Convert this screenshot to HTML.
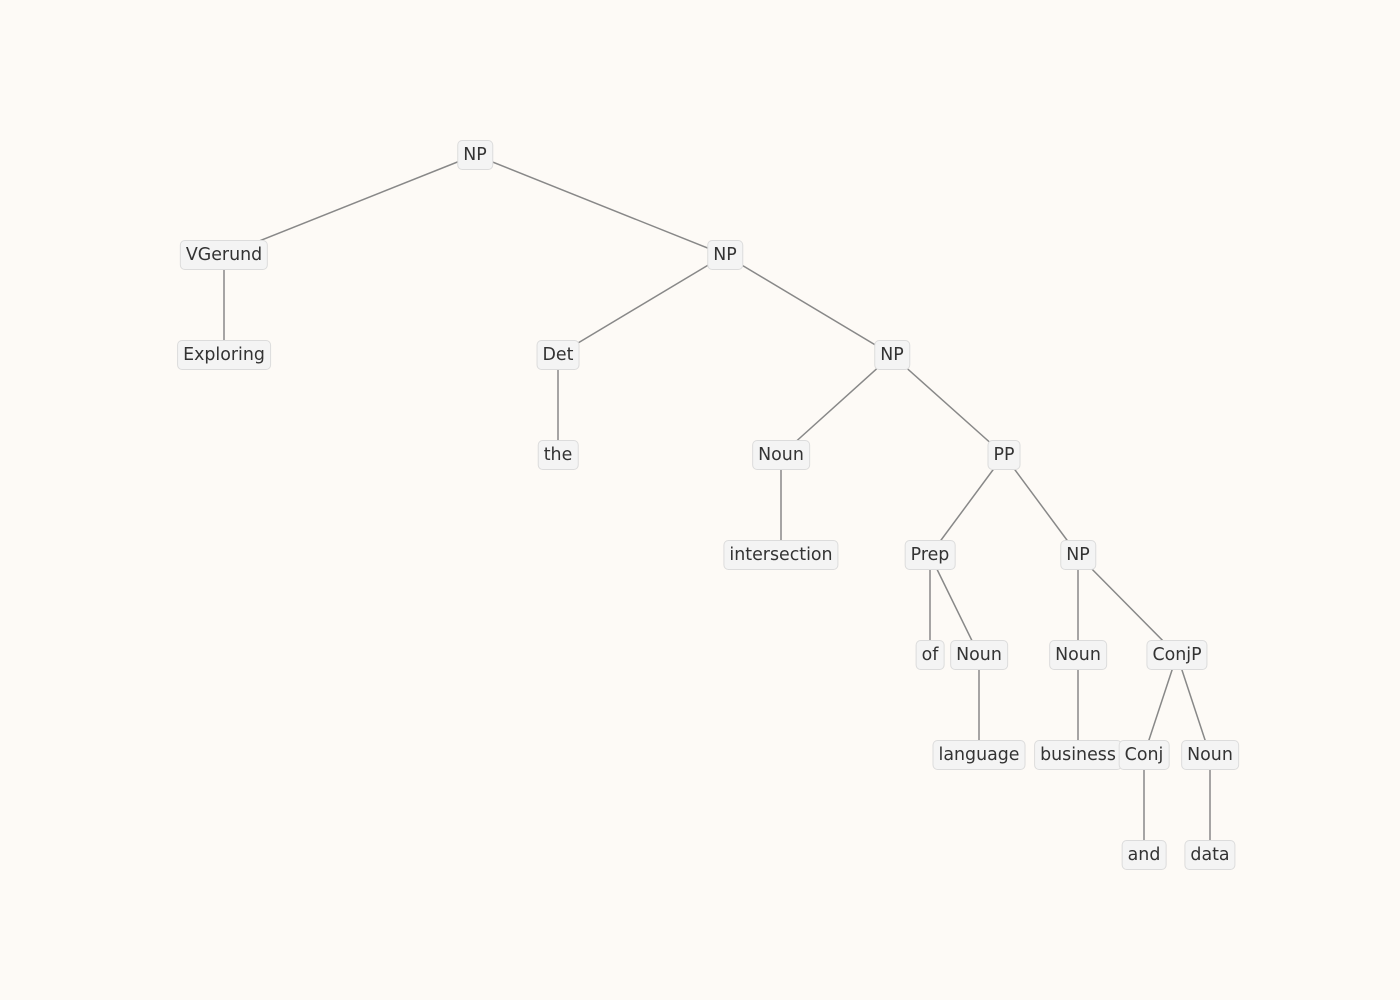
<!DOCTYPE html>
<html><head><meta charset="utf-8"><style>
html,body{margin:0;padding:0;}
body{width:1400px;height:1000px;background:#fdfaf6;position:relative;overflow:hidden;font-family:"DejaVu Sans","Liberation Sans",sans-serif;}
svg{position:absolute;left:0;top:0;}
.n{position:absolute;transform:translate(-50%,-50%);background:#f4f4f4;border:1px solid #dcdcdc;border-radius:5px;padding:0 5px;height:28px;line-height:28px;font-size:17.4px;color:#333;white-space:nowrap;margin-top:1px;}
</style></head><body>
<svg width="1400" height="1000" stroke="#888" stroke-width="1.5">
<line x1="475" y1="155" x2="224" y2="255"/>
<line x1="475" y1="155" x2="725" y2="255"/>
<line x1="224" y1="255" x2="224" y2="355"/>
<line x1="725" y1="255" x2="558" y2="355"/>
<line x1="725" y1="255" x2="892" y2="355"/>
<line x1="558" y1="355" x2="558" y2="455"/>
<line x1="892" y1="355" x2="781" y2="455"/>
<line x1="892" y1="355" x2="1004" y2="455"/>
<line x1="781" y1="455" x2="781" y2="555"/>
<line x1="1004" y1="455" x2="930" y2="555"/>
<line x1="1004" y1="455" x2="1078" y2="555"/>
<line x1="930" y1="555" x2="930" y2="655"/>
<line x1="930" y1="555" x2="979" y2="655"/>
<line x1="1078" y1="555" x2="1078" y2="655"/>
<line x1="1078" y1="555" x2="1177" y2="655"/>
<line x1="979" y1="655" x2="979" y2="755"/>
<line x1="1078" y1="655" x2="1078" y2="755"/>
<line x1="1177" y1="655" x2="1144" y2="755"/>
<line x1="1177" y1="655" x2="1210" y2="755"/>
<line x1="1144" y1="755" x2="1144" y2="855"/>
<line x1="1210" y1="755" x2="1210" y2="855"/>
</svg>
<div class="n" style="left:475px;top:154px">NP</div>
<div class="n" style="left:224px;top:254px">VGerund</div>
<div class="n" style="left:725px;top:254px">NP</div>
<div class="n" style="left:224px;top:354px">Exploring</div>
<div class="n" style="left:558px;top:354px">Det</div>
<div class="n" style="left:892px;top:354px">NP</div>
<div class="n" style="left:558px;top:454px">the</div>
<div class="n" style="left:781px;top:454px">Noun</div>
<div class="n" style="left:1004px;top:454px">PP</div>
<div class="n" style="left:781px;top:554px">intersection</div>
<div class="n" style="left:930px;top:554px">Prep</div>
<div class="n" style="left:1078px;top:554px">NP</div>
<div class="n" style="left:930px;top:654px">of</div>
<div class="n" style="left:979px;top:654px">Noun</div>
<div class="n" style="left:1078px;top:654px">Noun</div>
<div class="n" style="left:1177px;top:654px">ConjP</div>
<div class="n" style="left:979px;top:754px">language</div>
<div class="n" style="left:1078px;top:754px">business</div>
<div class="n" style="left:1144px;top:754px">Conj</div>
<div class="n" style="left:1210px;top:754px">Noun</div>
<div class="n" style="left:1144px;top:854px">and</div>
<div class="n" style="left:1210px;top:854px">data</div>
</body></html>
